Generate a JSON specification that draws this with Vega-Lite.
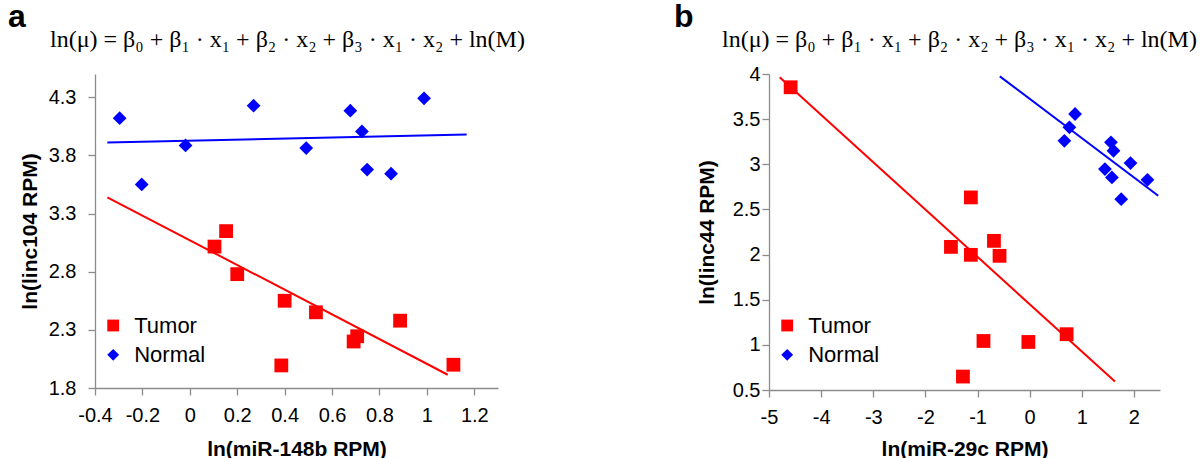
{
  "$schema": "https://vega.github.io/schema/vega-lite/v6.json",
  "padding": {"left": 8, "top": 1, "right": 0, "bottom": 0},
  "bounds": "flush",
  "spacing": 271,
  "datasets": {
    "pointsA": [
      {"group": "Normal", "x": -0.296, "y": 4.12},
      {"group": "Normal", "x": -0.203, "y": 3.55},
      {"group": "Normal", "x": -0.018, "y": 3.886},
      {"group": "Normal", "x": 0.269, "y": 4.228},
      {"group": "Normal", "x": 0.491, "y": 3.863},
      {"group": "Normal", "x": 0.677, "y": 4.185},
      {"group": "Normal", "x": 0.726, "y": 4.006},
      {"group": "Normal", "x": 0.748, "y": 3.678},
      {"group": "Normal", "x": 0.849, "y": 3.643},
      {"group": "Normal", "x": 0.988, "y": 4.291},
      {"group": "Tumor", "x": 0.104, "y": 3.016},
      {"group": "Tumor", "x": 0.153, "y": 3.149},
      {"group": "Tumor", "x": 0.2, "y": 2.779},
      {"group": "Tumor", "x": 0.4, "y": 2.55},
      {"group": "Tumor", "x": 0.386, "y": 1.994},
      {"group": "Tumor", "x": 0.532, "y": 2.451},
      {"group": "Tumor", "x": 0.691, "y": 2.2},
      {"group": "Tumor", "x": 0.706, "y": 2.245},
      {"group": "Tumor", "x": 0.887, "y": 2.379},
      {"group": "Tumor", "x": 1.112, "y": 2.0}
    ],
    "linesA": [
      {"group": "Normal", "x": -0.348, "y": 3.911},
      {"group": "Normal", "x": 1.168, "y": 3.98},
      {"group": "Tumor", "x": -0.348, "y": 3.44},
      {"group": "Tumor", "x": 1.088, "y": 1.914}
    ],
    "pointsB": [
      {"group": "Tumor", "x": -4.585, "y": 3.853},
      {"group": "Tumor", "x": -1.128, "y": 2.633},
      {"group": "Tumor", "x": -1.51, "y": 2.085},
      {"group": "Tumor", "x": -1.128, "y": 1.997},
      {"group": "Tumor", "x": -0.685, "y": 2.152},
      {"group": "Tumor", "x": -0.578, "y": 1.986},
      {"group": "Tumor", "x": -0.886, "y": 1.043},
      {"group": "Tumor", "x": -0.025, "y": 1.032},
      {"group": "Tumor", "x": 0.709, "y": 1.118},
      {"group": "Tumor", "x": -1.28, "y": 0.649},
      {"group": "Normal", "x": 0.871, "y": 3.557},
      {"group": "Normal", "x": 0.762, "y": 3.409},
      {"group": "Normal", "x": 0.666, "y": 3.26},
      {"group": "Normal", "x": 1.559, "y": 3.243},
      {"group": "Normal", "x": 1.608, "y": 3.15},
      {"group": "Normal", "x": 1.934, "y": 3.013},
      {"group": "Normal", "x": 1.444, "y": 2.947},
      {"group": "Normal", "x": 1.578, "y": 2.855},
      {"group": "Normal", "x": 2.26, "y": 2.828},
      {"group": "Normal", "x": 1.756, "y": 2.614}
    ],
    "linesB": [
      {"group": "Normal", "x": -0.573, "y": 3.974},
      {"group": "Normal", "x": 2.466, "y": 2.651},
      {"group": "Tumor", "x": -4.795, "y": 3.963},
      {"group": "Tumor", "x": 1.636, "y": 0.593}
    ]
  },
  "hconcat": [
    {
      "title": {
        "text": "a",
        "subtitle": "\u200b\u2003\u2002\u00a0ln(μ) = β₀ + β₁ · x₁ + β₂ · x₂ + β₃ · x₁ · x₂ + ln(M)",
        "dx": -87,
        "offset": 21
      },
      "width": 403,
      "height": 314,
      "layer": [
        {
          "data": {"name": "linesA"},
          "transform": [{"filter": "datum.group === 'Tumor'"}],
          "mark": {"type": "line", "strokeWidth": 2, "color": "#FF0000", "clip": false},
          "encoding": {
            "x": {"field": "x", "type": "quantitative",
              "scale": {"domain": [-0.4, 1.3], "nice": false, "zero": false},
              "axis": {"title": "ln(miR-148b RPM)", "values": [-0.4, -0.2, 0, 0.2, 0.4, 0.6, 0.8, 1, 1.2],
                "labelExpr": "datum.value < 0 ? '-' + format(-datum.value, '~g') : format(datum.value, '~g')",
                "labelOverlap": false, "labelFlush": false, "labelPadding": 10, "titlePadding": 13}},
            "y": {"field": "y", "type": "quantitative",
              "scale": {"domain": [1.8, 4.5], "nice": false, "zero": false},
              "axis": {"title": "ln(linc104 RPM)", "values": [1.8, 2.3, 2.8, 3.3, 3.8, 4.3],
                "labelExpr": "format(datum.value, '.1f')", "labelOverlap": false, "labelFlush": false,
                "labelPadding": 12, "titlePadding": 8}}
          }
        },
        {
          "data": {"name": "linesA"},
          "transform": [{"filter": "datum.group === 'Normal'"}],
          "mark": {"type": "line", "strokeWidth": 2, "color": "#0000FF", "clip": false},
          "encoding": {
            "x": {"field": "x", "type": "quantitative"},
            "y": {"field": "y", "type": "quantitative"}
          }
        },
        {
          "data": {"name": "pointsA"},
          "mark": {"type": "point", "filled": true, "size": 190, "opacity": 1, "strokeWidth": 0},
          "encoding": {
            "x": {"field": "x", "type": "quantitative"},
            "y": {"field": "y", "type": "quantitative"},
            "color": {"field": "group", "type": "nominal",
              "scale": {"domain": ["Tumor", "Normal"], "range": ["#FF0000", "#0000FF"]},
              "legend": {"title": null, "orient": "none", "legendX": 7.2, "legendY": 240.5}},
            "shape": {"field": "group", "type": "nominal",
              "scale": {"domain": ["Tumor", "Normal"], "range": ["square", "diamond"]},
              "legend": {"title": null, "orient": "none", "legendX": 7.2, "legendY": 240.5}}
          }
        }
      ]
    },
    {
      "title": {
        "text": "b",
        "subtitle": "\u200b\u2003\u2002\u2002ln(μ) = β₀ + β₁ · x₁ + β₂ · x₂ + β₃ · x₁ · x₂ + ln(M)",
        "dx": -95,
        "offset": 11
      },
      "width": 391,
      "height": 316,
      "layer": [
        {
          "data": {"name": "linesB"},
          "transform": [{"filter": "datum.group === 'Tumor'"}],
          "mark": {"type": "line", "strokeWidth": 2, "color": "#FF0000", "clip": false},
          "encoding": {
            "x": {"field": "x", "type": "quantitative",
              "scale": {"domain": [-5, 2.5], "nice": false, "zero": false},
              "axis": {"title": "ln(miR-29c RPM)", "values": [-5, -4, -3, -2, -1, 0, 1, 2],
                "labelExpr": "datum.value < 0 ? '-' + format(-datum.value, '~g') : format(datum.value, '~g')",
                "labelOverlap": false, "labelFlush": false, "labelPadding": 10, "titlePadding": 11}},
            "y": {"field": "y", "type": "quantitative",
              "scale": {"domain": [0.5, 4], "nice": false, "zero": false},
              "axis": {"title": "ln(linc44 RPM)", "values": [0.5, 1, 1.5, 2, 2.5, 3, 3.5, 4],
                "labelExpr": "format(datum.value, '~g')", "labelOverlap": false, "labelFlush": false,
                "labelPadding": 2, "titlePadding": 15}}
          }
        },
        {
          "data": {"name": "linesB"},
          "transform": [{"filter": "datum.group === 'Normal'"}],
          "mark": {"type": "line", "strokeWidth": 2, "color": "#0000FF", "clip": false},
          "encoding": {
            "x": {"field": "x", "type": "quantitative"},
            "y": {"field": "y", "type": "quantitative"}
          }
        },
        {
          "data": {"name": "pointsB"},
          "mark": {"type": "point", "filled": true, "size": 190, "opacity": 1, "strokeWidth": 0},
          "encoding": {
            "x": {"field": "x", "type": "quantitative"},
            "y": {"field": "y", "type": "quantitative"},
            "color": {"field": "group", "type": "nominal",
              "scale": {"domain": ["Tumor", "Normal"], "range": ["#FF0000", "#0000FF"]},
              "legend": {"title": null, "orient": "none", "legendX": 7.2, "legendY": 240.5}},
            "shape": {"field": "group", "type": "nominal",
              "scale": {"domain": ["Tumor", "Normal"], "range": ["square", "diamond"]},
              "legend": {"title": null, "orient": "none", "legendX": 7.2, "legendY": 240.5}}
          }
        }
      ]
    }
  ],
  "resolve": {
    "scale": {"x": "independent", "y": "independent", "color": "independent", "shape": "independent"},
    "legend": {"color": "independent", "shape": "independent"}
  },
  "config": {
    "view": {"stroke": null},
    "axis": {
      "grid": false,
      "domainColor": "#8c8c8c",
      "tickColor": "#8c8c8c",
      "domainWidth": 1.3,
      "tickWidth": 1.3,
      "tickSize": 7,
      "labelFont": "Liberation Sans",
      "labelFontSize": 20,
      "labelColor": "#000000",
      "titleFont": "Liberation Sans",
      "titleFontSize": 21,
      "titleFontWeight": "bold",
      "titleColor": "#000000"
    },
    "legend": {
      "padding": 0,
      "labelFont": "Liberation Sans",
      "labelFontSize": 22,
      "labelColor": "#000000",
      "symbolSize": 140,
      "symbolStrokeWidth": 0,
      "labelOffset": 10,
      "rowPadding": 7.3
    },
    "title": {
      "anchor": "start",
      "frame": "group",
      "font": "Liberation Sans",
      "fontSize": 32,
      "fontWeight": "bold",
      "color": "#000000",
      "subtitleFont": "Liberation Serif",
      "subtitleFontSize": 24,
      "subtitleColor": "#000000",
      "subtitlePadding": -6
    }
  }
}
